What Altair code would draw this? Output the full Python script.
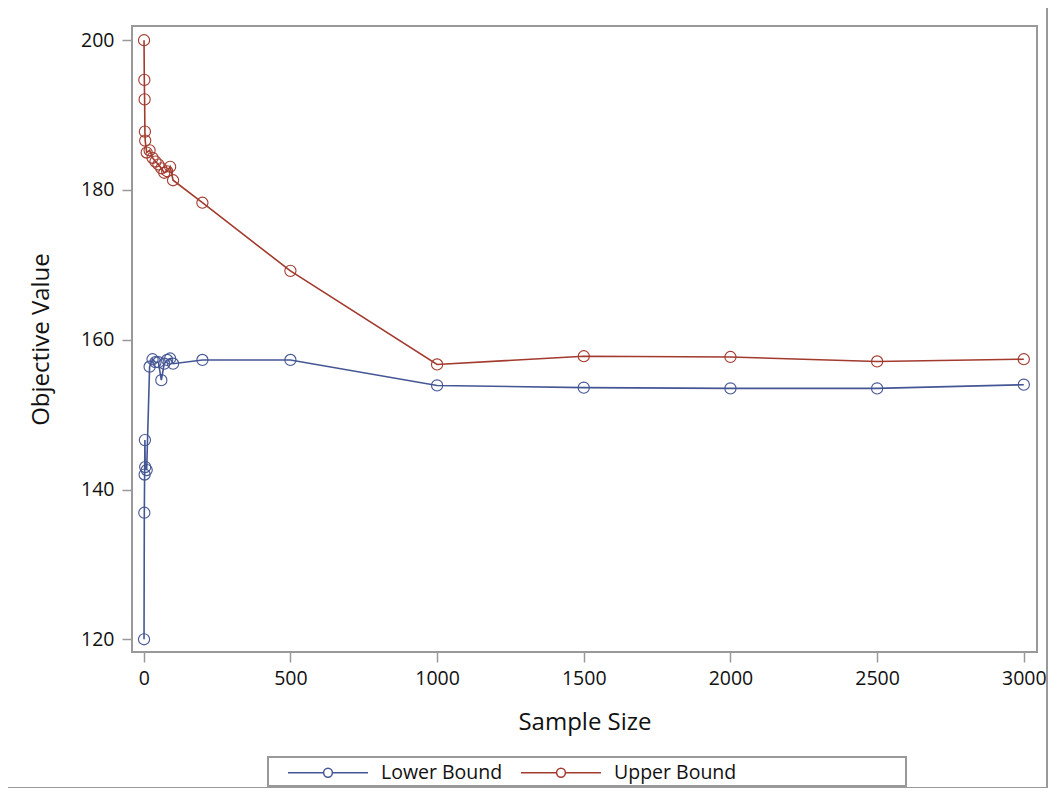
import altair as alt
import pandas as pd

sample_size = [1, 2, 3, 4, 5, 10, 20, 30, 40, 50, 60, 70, 80, 90, 100,
               200, 500, 1000, 1500, 2000, 2500, 3000]
lower_bound = [120.0, 136.9, 142.0, 146.6, 143.0, 142.6, 156.4, 157.4, 157.0, 157.0,
               154.6, 156.8, 157.3, 157.5, 156.8, 157.3, 157.3, 153.9, 153.6, 153.5,
               153.5, 154.0]
upper_bound = [200.0, 194.7, 192.1, 187.8, 186.6, 185.0, 185.3, 184.3, 183.8, 183.4,
               182.9, 182.3, 182.5, 183.1, 181.3, 178.3, 169.2, 156.7, 157.8, 157.7,
               157.1, 157.4]
series_names = ["Lower Bound", "Upper Bound"]
series_colors = ["#445694", "#A23A2E"]
x_ticks = [0, 500, 1000, 1500, 2000, 2500, 3000]
y_ticks = [120, 140, 160, 180, 200]

rows = []
for name, vals in zip(series_names, [lower_bound, upper_bound]):
    for s, v in zip(sample_size, vals):
        rows.append({"Sample Size": s, "Objective Value": v, "Series": name})
df = pd.DataFrame(rows)

L, T = 132, 26
W, H = 1037 - L, 652 - T
FONT = "Open Sans"
legend_path = ("M-1,0H-0.11 M0.11,0H1 "
               "M-0.11,0A0.11,0.11 0 1,1 0.11,0A0.11,0.11 0 1,1 -0.11,0")

base = alt.Chart(df)

lines = base.mark_line(
    strokeWidth=1.6,
    point=alt.OverlayMarkDef(filled=False, shape="circle", size=125, strokeWidth=1.1),
).encode(
    x=alt.X("Sample Size:Q",
            scale=alt.Scale(domain=[-40, 3045], nice=False, zero=False),
            axis=alt.Axis(values=x_ticks, title="Sample Size", titleX=W / 2, titleY=70,
                          titleBaseline="middle", titleAlign="center", labelPadding=7,
                          format="d")),
    y=alt.Y("Objective Value:Q",
            scale=alt.Scale(domain=[118.3, 201.9], nice=False, zero=False),
            axis=alt.Axis(values=y_ticks, title="Objective Value", titleX=41 - L, titleY=H / 2,
                          titleAngle=270, titleBaseline="middle", titleAlign="center",
                          labelPadding=8)),
    color=alt.Color("Series:N",
                    scale=alt.Scale(domain=series_names, range=series_colors),
                    legend=alt.Legend(title=None, orient="none", direction="horizontal",
                                      legendX=287 - L, legendY=771.5 - T - 40,
                                      symbolType=legend_path, symbolSize=6400,
                                      symbolStrokeWidth=1.5, symbolFillColor="white",
                                      labelFontSize=19.5, labelFont=FONT, labelColor="#111",
                                      labelOffset=12, columnPadding=15, padding=0)),
)

# outer graph border
outer = base.mark_rect(fill=None, stroke="#999999", strokeWidth=1.5, clip=False).encode(
    x=alt.value(7 - L), x2=alt.value(1047 - L),
    y=alt.value(7 - T), y2=alt.value(788 - T),
)
# legend box
legend_box = base.mark_rect(fill=None, stroke="#999999", strokeWidth=1.5, clip=False).encode(
    x=alt.value(268 - L), x2=alt.value(906 - L),
    y=alt.value(757 - T), y2=alt.value(786 - T),
)

chart = alt.layer(outer, legend_box, lines).properties(
    width=W, height=H,
    autosize=alt.AutoSizeParams(type="none"),
    padding={"left": L - 8, "top": T - 8, "right": 1049 - 8 - (L - 8) - W,
             "bottom": 780 - (T - 8) - H},
    background="white",
).configure_view(
    stroke="#999999", strokeWidth=2
).configure_axis(
    grid=False, domain=False, tickColor="#999999", tickSize=10, tickWidth=1.5,
    labelFont=FONT, labelFontSize=19.5, labelColor="#111111",
    titleFont=FONT, titleFontSize=24, titleFontWeight="normal", titleColor="#111111",
)

chart.save("out.html", embed_options={"renderer": "svg", "actions": False})
